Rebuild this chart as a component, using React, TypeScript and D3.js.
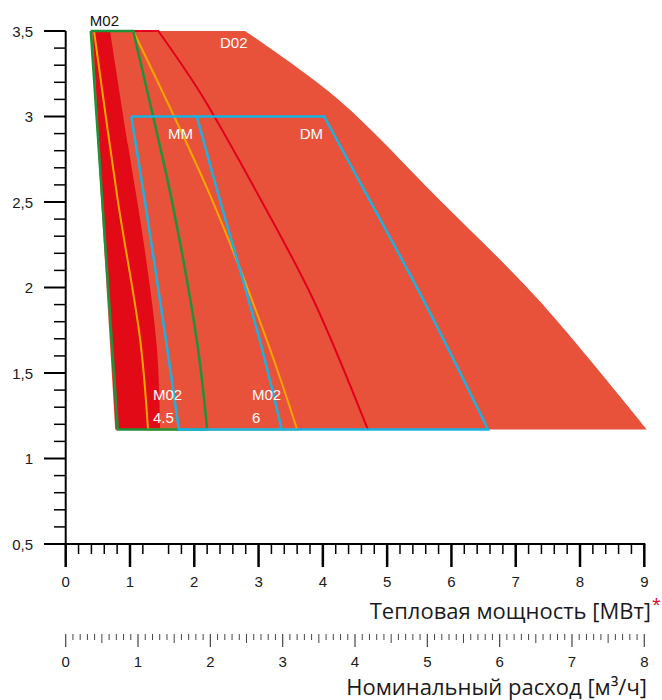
import React from 'react';
import * as d3 from 'd3';

const W = 662;
const H = 700;

// Axis ticks
const powerTicks = [0, 1, 2, 3, 4, 5, 6, 7, 8, 9];
const flowTicks = [0, 1, 2, 3, 4, 5, 6, 7, 8];
const yTicks = [0.5, 1, 1.5, 2, 2.5, 3, 3.5];
const yTickLabels = ['0,5', '1', '1,5', '2', '2,5', '3', '3,5'];
const powerTitle = 'Тепловая мощность [МВт]';
const flowTitle = 'Номинальный расход [м³/ч]';

// D02 envelope (light red area)
const envelopeLeft: [number, number][] = [[0.39, 3.5], [0.77, 1.17]];
const envelopeRight: [number, number][] = [[2.79, 3.5], [4.24, 3.1], [5.82, 2.51], [7.35, 1.93], [9.04, 1.17]];

// dark red band
const bandLeft: [number, number][] = [[0.42, 3.5], [0.78, 1.17]];
const bandRight: [number, number][] = [[0.69, 3.5], [0.97, 2.83], [1.23, 2.22], [1.42, 1.64], [1.47, 1.17]];

// red curve
const redTop: [number, number][] = [[0.42, 3.5], [1.44, 3.5]];
const redCurve: [number, number][] = [[1.44, 3.5], [2.09, 3.14], [3.04, 2.51], [3.85, 1.93], [4.7, 1.17]];

// yellow lines (polygon)
const yellowLeft: [number, number][] = [[0.44, 3.5], [0.81, 2.51], [1.16, 1.69], [1.28, 1.17]];
const yellowRight: [number, number][] = [[1.05, 3.5], [2.28, 2.51], [3.13, 1.69], [3.6, 1.17]];

// green M02 polygon
const greenLeft: [number, number][] = [[0.39, 3.5], [0.81, 1.17]];
const greenRight: [number, number][] = [[1.05, 3.5], [1.36, 3.0], [1.65, 2.51], [2.04, 1.69], [2.2, 1.17]];

// blue MM / DM boxes
const blueLeft: [number, number][] = [[1.02, 3.0], [1.23, 2.51], [1.56, 1.69], [1.76, 1.17]];
const blueMid: [number, number][] = [[2.04, 3.0], [2.4, 2.51], [3.02, 1.69], [3.36, 1.17]];
const blueRight: [number, number][] = [[4.02, 3.0], [4.73, 2.51], [5.56, 1.93], [6.57, 1.17]];

const labels = [
  { t: 'M02', x: 0.375, y: 3.53, c: '#111' },
  { t: 'D02', x: 2.4, y: 3.4, c: '#fff' },
  { t: 'MM', x: 1.59, y: 2.87, c: '#fff' },
  { t: 'DM', x: 3.64, y: 2.87, c: '#fff' },
  { t: 'M02', x: 1.357, y: 1.345, c: '#fff' },
  { t: '4.5', x: 1.357, y: 1.21, c: '#fff' },
  { t: 'M02', x: 2.898, y: 1.345, c: '#fff' },
  { t: '6', x: 2.898, y: 1.21, c: '#fff' },
];

const C_LIGHT = '#E8523A';
const C_DARK = '#E30A17';
const C_RED = '#E2001A';
const C_YEL = '#F7A600';
const C_GREEN = '#1E9238';
const C_BLUE = '#19B2E3';

export default function App() {
  const x = d3.scaleLinear().domain([0, 9]).range([65.7, 644.3]);
  const xf = d3.scaleLinear().domain([0, 8]).range([65.7, 644.3]);
  const y = d3.scaleLinear().domain([0.5, 3.5]).range([544, 31]);

  const straight = d3.line<[number, number]>().x(d => x(d[0])).y(d => y(d[1]));
  const curved = d3.line<[number, number]>().x(d => x(d[0])).y(d => y(d[1])).curve(d3.curveCatmullRom.alpha(0.5));
  const cont = (pts: [number, number][]) => (curved(pts) || '').replace(/^M/, 'L');
  const rev = (pts: [number, number][]) => pts.slice().reverse();

  const poly = (left: [number, number][], right: [number, number][]) =>
    `M${x(left[0][0])},${y(left[0][1])}` + cont(right) + cont(rev(left)) + 'Z';

  const envelopeD = poly(envelopeLeft, envelopeRight);
  const bandD = poly(bandLeft, bandRight);
  const yellowD = poly(yellowLeft, yellowRight);
  const greenD = poly(greenLeft, greenRight);
  const blueD = poly(blueLeft, blueRight);
  const blueMidD = curved(blueMid) || '';
  const redD = (straight(redTop) || '') + cont(redCurve);

  const minorPower = d3.range(0, 9.001, 0.2).filter(v => Math.abs(v - Math.round(v)) > 1e-6 && Math.abs(v - 1.4) > 1e-6);
  const minorY = d3.range(0.5, 3.501, 0.1).filter(v => Math.abs(v * 2 - Math.round(v * 2)) > 1e-6);
  const flowMinor = d3.range(0, 8.001, 0.1).map(v => +v.toFixed(1)).filter(v => Math.abs(v - Math.round(v)) > 1e-6);

  const tickFont = '"Liberation Sans", Arial, sans-serif';
  const titleFont = '"Open Sans", "Noto Sans", sans-serif';

  return (
    <svg width={W} height={H} style={{ position: 'absolute', left: 0, top: 0, background: '#fff' }}>
      <path d={envelopeD} fill={C_LIGHT} />
      <path d={bandD} fill={C_DARK} />
      <path d={redD} fill="none" stroke={C_RED} strokeWidth={2} />
      <path d={yellowD} fill="none" stroke={C_YEL} strokeWidth={2} />
      <path d={greenD} fill="none" stroke={C_GREEN} strokeWidth={2.5} strokeLinejoin="miter" />
      <path d={blueD} fill="none" stroke={C_BLUE} strokeWidth={2.5} />
      <path d={blueMidD} fill="none" stroke={C_BLUE} strokeWidth={2.5} />

      {labels.map((l, i) => (
        <text key={i} x={x(l.x)} y={y(l.y)} fill={l.c} fontFamily={tickFont} fontSize={15}>{l.t}</text>
      ))}

      {/* Y axis */}
      <line x1={x(0)} x2={x(0)} y1={y(3.5)} y2={y(0.5)} stroke="#000" strokeWidth={2} />
      {yTicks.map((v, i) => (
        <g key={'y' + i}>
          <line x1={44} x2={x(0)} y1={y(v)} y2={y(v)} stroke="#000" strokeWidth={2} />
          <text x={33} y={y(v) + 5.5} textAnchor="end" fontFamily={tickFont} fontSize={15} fill="#1a1a1a">{yTickLabels[i]}</text>
        </g>
      ))}
      {minorY.map((v, i) => (
        <line key={'ym' + i} x1={54} x2={x(0)} y1={y(v)} y2={y(v)} stroke="#000" strokeWidth={1.5} />
      ))}

      {/* X axis (power) */}
      <line x1={44} x2={x(9) + 1} y1={y(0.5)} y2={y(0.5)} stroke="#000" strokeWidth={2} />
      {powerTicks.map(v => (
        <g key={'p' + v}>
          <line x1={x(v)} x2={x(v)} y1={y(0.5)} y2={567} stroke="#000" strokeWidth={2.5} />
          <text x={x(v)} y={587} textAnchor="middle" fontFamily={tickFont} fontSize={15} fill="#1a1a1a">{v}</text>
        </g>
      ))}
      {minorPower.map((v, i) => (
        <line key={'pm' + i} x1={x(v)} x2={x(v)} y1={y(0.5)} y2={554} stroke="#000" strokeWidth={1.5} />
      ))}
      <text x={651} y={619} textAnchor="end" fontFamily={titleFont} fontSize={22} fill="#1a1a1a">{powerTitle}</text>
      <text x={652} y={610} fontFamily={titleFont} fontSize={16} fill="#E2001A">*</text>

      {/* Flow axis */}
      {flowTicks.map(v => (
        <g key={'f' + v}>
          <line x1={xf(v)} x2={xf(v)} y1={634} y2={647} stroke="#444" strokeWidth={1.2} />
          <text x={xf(v)} y={667} textAnchor="middle" fontFamily={tickFont} fontSize={15} fill="#1a1a1a">{v}</text>
        </g>
      ))}
      {flowMinor.map((v, i) => {
        const half = Math.abs(v * 2 - Math.round(v * 2)) < 1e-6;
        return <line key={'fm' + i} x1={xf(v)} x2={xf(v)} y1={634} y2={half ? 643 : 640} stroke="#444" strokeWidth={1} />;
      })}
      <text x={647} y={695} textAnchor="end" fontFamily={titleFont} fontSize={22} fill="#1a1a1a">{flowTitle}</text>
    </svg>
  );
}
